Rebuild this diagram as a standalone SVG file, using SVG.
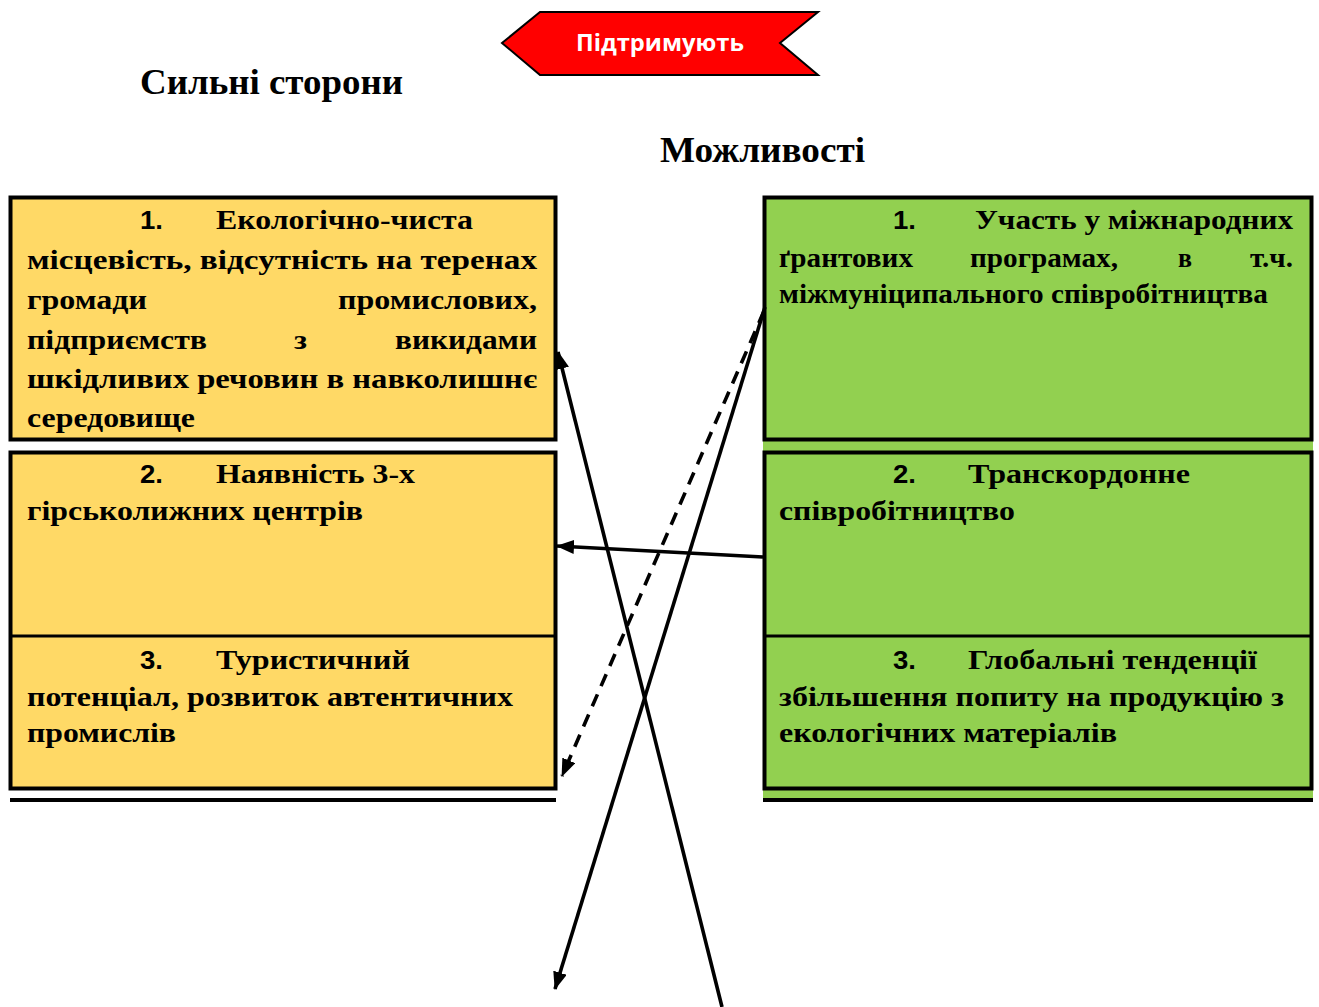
<svg xmlns="http://www.w3.org/2000/svg" width="1319" height="1007" viewBox="0 0 1319 1007">
<defs>
<style>
.t{font-family:"Liberation Serif","Times New Roman",serif;font-weight:bold;font-size:28px;fill:#000}
.n{font-family:"Liberation Sans",Arial,sans-serif;font-weight:bold;font-size:25px;fill:#000}
.h{font-family:"Liberation Serif","Times New Roman",serif;font-weight:bold;font-size:35px;fill:#000}
.y{fill:#FFD966;stroke:#000;stroke-width:4}
.g{fill:#92D050;stroke:#000;stroke-width:4}
.div{stroke:#000;stroke-width:3}
.c{fill:none;stroke:#000;stroke-width:3.6}
</style>
<marker id="ah" viewBox="0 0 18 14" refX="17" refY="7" markerWidth="18" markerHeight="14" markerUnits="userSpaceOnUse" orient="auto">
<path d="M0,0 L18,7 L0,14 z" fill="#000"/>
</marker>
</defs>
<rect width="1319" height="1007" fill="#fff"/>

<g id="banner">
<polygon points="502,43 540,12 818,12 780,43 818,75 540,75" fill="#FF0000" stroke="#000" stroke-width="2"/>
<text x="660" y="51" text-anchor="middle" font-family="'Open Sans','Liberation Sans',sans-serif" font-weight="bold" font-size="23" fill="#fff" textLength="168" lengthAdjust="spacingAndGlyphs">Підтримують</text>
</g>

<g id="title-strengths"><text class="h" x="140" y="94" textLength="263" lengthAdjust="spacingAndGlyphs">Сильні сторони</text></g>
<g id="title-opportunities"><text class="h" x="660" y="162" textLength="205" lengthAdjust="spacingAndGlyphs">Можливості</text></g>

<g id="s1">
<rect class="y" x="10.5" y="197.5" width="545" height="242"/>
<text class="n" x="140" y="229" textLength="23" lengthAdjust="spacingAndGlyphs">1.</text>
<text class="t" x="216" y="229" textLength="257" lengthAdjust="spacingAndGlyphs">Екологічно-чиста</text>
<text class="t" x="27" y="269" textLength="510" lengthAdjust="spacingAndGlyphs">місцевість, відсутність на теренах</text>
<text class="t" x="27" y="309" textLength="120" lengthAdjust="spacingAndGlyphs">громади</text>
<text class="t" x="338" y="309" textLength="199" lengthAdjust="spacingAndGlyphs">промислових,</text>
<text class="t" x="27" y="349" textLength="180" lengthAdjust="spacingAndGlyphs">підприємств</text>
<text class="t" x="294" y="349" textLength="13" lengthAdjust="spacingAndGlyphs">з</text>
<text class="t" x="395" y="349" textLength="142" lengthAdjust="spacingAndGlyphs">викидами</text>
<text class="t" x="27" y="388" textLength="510" lengthAdjust="spacingAndGlyphs">шкідливих речовин в навколишнє</text>
<text class="t" x="27" y="427" textLength="168" lengthAdjust="spacingAndGlyphs">середовище</text>
</g>

<g id="s23">
<rect class="y" x="10.5" y="452.5" width="545" height="336"/>
<line class="div" x1="10" y1="636" x2="556" y2="636"/>
</g>
<g id="s2">
<text class="n" x="140" y="483" textLength="23" lengthAdjust="spacingAndGlyphs">2.</text>
<text class="t" x="216" y="483" textLength="199" lengthAdjust="spacingAndGlyphs">Наявність 3-х</text>
<text class="t" x="27" y="520" textLength="336" lengthAdjust="spacingAndGlyphs">гірськолижних центрів</text>
</g>
<g id="s3">
<text class="n" x="140" y="669" textLength="23" lengthAdjust="spacingAndGlyphs">3.</text>
<text class="t" x="216" y="669" textLength="194" lengthAdjust="spacingAndGlyphs">Туристичний</text>
<text class="t" x="27" y="706" textLength="486" lengthAdjust="spacingAndGlyphs">потенціал, розвиток автентичних</text>
<text class="t" x="27" y="742" textLength="149" lengthAdjust="spacingAndGlyphs">промислів</text>
</g>
<line x1="10" y1="800" x2="556" y2="800" stroke="#000" stroke-width="4"/>

<rect x="763" y="196" width="550" height="604" fill="#92D050"/>
<g id="o1">
<rect class="g" x="764.5" y="197.5" width="547" height="242"/>
<text class="n" x="893" y="229" textLength="23" lengthAdjust="spacingAndGlyphs">1.</text>
<text class="t" x="975" y="229" textLength="318" lengthAdjust="spacingAndGlyphs">Участь у міжнародних</text>
<text class="t" x="779" y="267" textLength="134" lengthAdjust="spacingAndGlyphs">ґрантових</text>
<text class="t" x="970" y="267" textLength="148" lengthAdjust="spacingAndGlyphs">програмах,</text>
<text class="t" x="1178" y="267" textLength="14" lengthAdjust="spacingAndGlyphs">в</text>
<text class="t" x="1250" y="267" textLength="43" lengthAdjust="spacingAndGlyphs">т.ч.</text>
<text class="t" x="779" y="303" textLength="489" lengthAdjust="spacingAndGlyphs">міжмуніципального співробітництва</text>
</g>
<g id="o23">
<rect class="g" x="764.5" y="452.5" width="547" height="336"/>
<line class="div" x1="764" y1="636" x2="1312" y2="636"/>
</g>
<g id="o2">
<text class="n" x="893" y="483" textLength="23" lengthAdjust="spacingAndGlyphs">2.</text>
<text class="t" x="968" y="483" textLength="222" lengthAdjust="spacingAndGlyphs">Транскордонне</text>
<text class="t" x="779" y="520" textLength="236" lengthAdjust="spacingAndGlyphs">співробітництво</text>
</g>
<g id="o3">
<text class="n" x="893" y="669" textLength="23" lengthAdjust="spacingAndGlyphs">3.</text>
<text class="t" x="968" y="669" textLength="289" lengthAdjust="spacingAndGlyphs">Глобальні тенденції</text>
<text class="t" x="779" y="706" textLength="505" lengthAdjust="spacingAndGlyphs">збільшення попиту на продукцію з</text>
<text class="t" x="779" y="742" textLength="338" lengthAdjust="spacingAndGlyphs">екологічних матеріалів</text>
</g>
<line x1="763" y1="800" x2="1313" y2="800" stroke="#000" stroke-width="4"/>

<g id="connectors">
<line class="c" x1="722" y1="1007" x2="558" y2="352" marker-end="url(#ah)"/>
<line class="c" x1="765" y1="307" x2="555" y2="989" marker-end="url(#ah)"/>
<line class="c" x1="764" y1="311" x2="562" y2="776" stroke-dasharray="13,9" marker-end="url(#ah)"/>
<line class="c" x1="763" y1="557" x2="557" y2="546" marker-end="url(#ah)"/>
</g>
</svg>
